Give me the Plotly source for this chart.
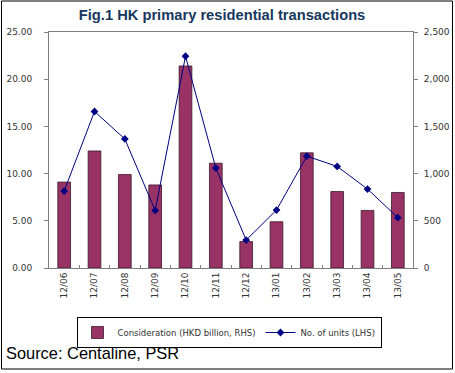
import plotly.graph_objects as go

months = ["12/06", "12/07", "12/08", "12/09", "12/10", "12/11", "12/12",
          "13/01", "13/02", "13/03", "13/04", "13/05"]
consideration = [9.1, 12.4, 9.9, 8.8, 21.4, 11.1, 2.8, 4.9, 12.2, 8.1, 6.1, 8.0]
units = [815, 1658, 1367, 610, 2243, 1058, 296, 614, 1185, 1076, 836, 533]

W, H = 455, 373
L, R, T, B = 49, 42, 32, 105
pw, ph = W - L - R, H - T - B

def px(x):
    return (x - L) / pw

def py(y):
    return (H - B - y) / ph

tickfont = dict(family="DejaVu Sans", size=9, color="#333333")

fig = go.Figure()
fig.add_trace(go.Bar(
    x=months, y=consideration, name="Consideration (HKD billion, RHS)",
    marker=dict(color="#993366", line=dict(color="#3a1a2a", width=0.8)),
    width=0.42, yaxis="y",
))
fig.add_trace(go.Scatter(
    x=months, y=units, name="No. of units (LHS)", mode="lines+markers",
    line=dict(color="#000080", width=1),
    marker=dict(symbol="diamond", size=6, color="#000080"),
    yaxis="y2",
))

fig.update_layout(
    width=W, height=H,
    margin=dict(l=L, r=R, t=T, b=B, autoexpand=False),
    paper_bgcolor="white", plot_bgcolor="white",
    title=dict(text="<b>Fig.1 HK primary residential transactions</b>",
               x=0.488, xanchor="center", y=1 - 15 / H, yanchor="middle",
               font=dict(family="Liberation Sans", size=14.7, color="#17375e")),
    xaxis=dict(type="category", range=[-0.5, len(months) - 0.5],
               tickangle=-90, tickfont=tickfont, automargin=False,
               showline=True, linecolor="#808080", linewidth=1, mirror=True,
               ticks="inside", ticklen=3, tickcolor="#808080", tickson="boundaries",
               showgrid=False),
    yaxis=dict(range=[0, 25], dtick=5, tickformat=".2f", tickfont=tickfont,
               automargin=False,
               showline=True, linecolor="#808080", linewidth=1,
               ticks="outside", ticklen=4, tickcolor="#808080",
               ticklabelstandoff=10, showgrid=False, zeroline=False),
    yaxis2=dict(range=[0, 2500], dtick=500, tickformat=",", tickfont=tickfont,
                overlaying="y", side="right", automargin=False,
                showline=True, linecolor="#808080", linewidth=1,
                ticks="outside", ticklen=4, tickcolor="#808080",
                ticklabelstandoff=4, showgrid=False, zeroline=False),
    showlegend=True,
    legend=dict(orientation="h", x=0.5 * (px(79) + px(379)), xanchor="center",
                y=py(317), yanchor="top",
                bordercolor="#000000", borderwidth=1, bgcolor="white",
                font=dict(family="DejaVu Sans", size=8.5, color="#333333"),
                itemwidth=30, tracegroupgap=0),
    annotations=[dict(text="Source: Centaline, PSR", xref="paper", yref="paper",
                      x=px(4), y=py(353), xanchor="left", yanchor="middle",
                      showarrow=False,
                      font=dict(family="Liberation Sans", size=16.4, color="#000000"))],
    shapes=[dict(type="rect", xref="paper", yref="paper",
                 x0=px(1.5), x1=px(452.5), y0=py(369), y1=py(1),
                 line=dict(color="#000000", width=1))],
)

fig.write_html("out.html", config={"displayModeBar": False},
               post_script="document.body.style.margin='0';document.body.style.overflow='hidden';")
